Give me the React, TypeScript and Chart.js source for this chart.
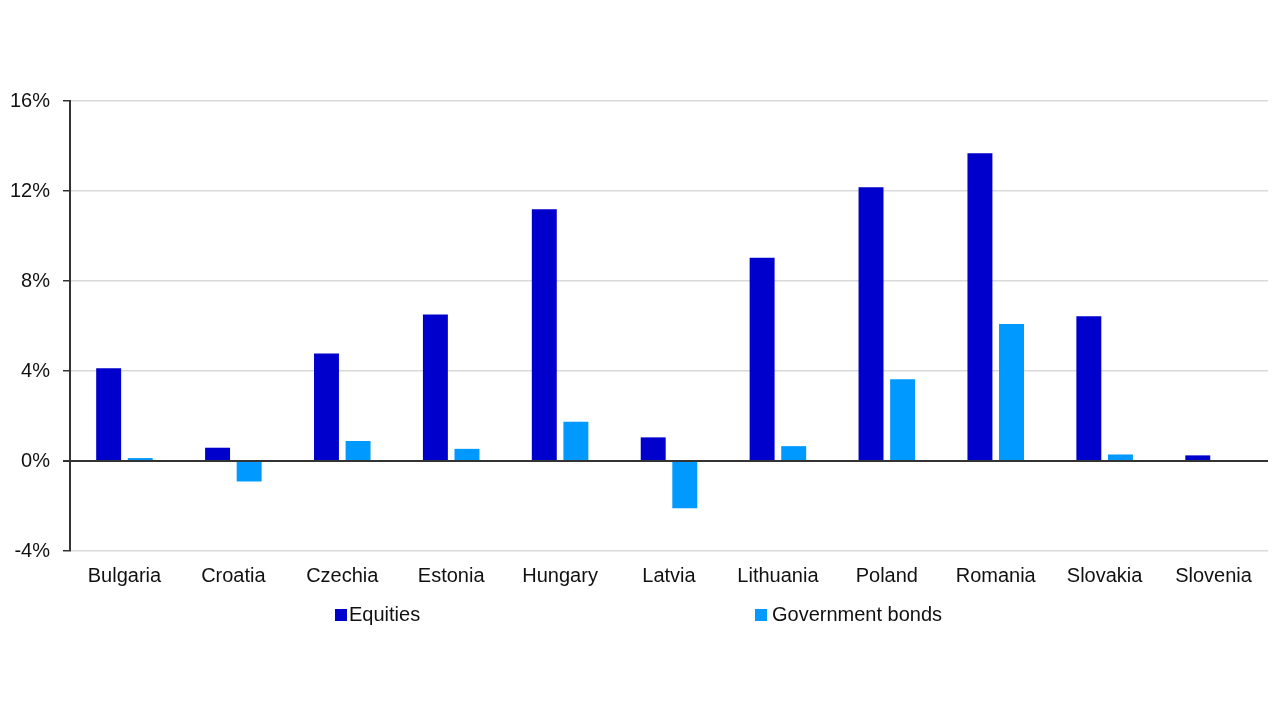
import { useEffect, useRef } from 'react';
import { Chart, registerables } from 'chart.js';

Chart.register(...registerables);

const countries = [
  'Bulgaria', 'Croatia', 'Czechia', 'Estonia', 'Hungary', 'Latvia',
  'Lithuania', 'Poland', 'Romania', 'Slovakia', 'Slovenia',
];
const equities = [4.12, 0.59, 4.78, 6.51, 11.19, 1.05, 9.03, 12.17, 13.68, 6.43, 0.25];
const govBonds = [0.13, -0.91, 0.89, 0.54, 1.75, -2.1, 0.66, 3.63, 6.09, 0.29, 0.0];
const yTicks = [-4, 0, 4, 8, 12, 16];

const palette = {
  equities: '#0000cc',
  bonds: '#0099ff',
  grid: '#d9d9d9',
  axis: '#333333',
  text: '#111111',
};

const fontFamily = '"Liberation Sans", Arial, sans-serif';

export default function App(): JSX.Element {
  const canvasRef = useRef<HTMLCanvasElement | null>(null);

  useEffect(() => {
    document.body.style.margin = '0';
    if (!canvasRef.current) return;
    const context = canvasRef.current.getContext('2d');
    if (!context) return;

    const chart = new Chart(context, {
      type: 'bar',
      data: {
        labels: countries,
        datasets: [
          {
            label: 'Equities',
            data: equities,
            backgroundColor: palette.equities,
            categoryPercentage: 0.58,
            barPercentage: 0.79,
          },
          {
            label: 'Government bonds',
            data: govBonds,
            backgroundColor: palette.bonds,
            categoryPercentage: 0.58,
            barPercentage: 0.79,
          },
        ],
      },
      options: {
        animation: false,
        responsive: false,
        layout: { padding: { top: 101, right: 12, bottom: 119, left: 0 } },
        plugins: {
          legend: { display: false },
          tooltip: { enabled: false },
        },
        scales: {
          x: {
            grid: { display: false, drawTicks: false },
            border: { display: false },
            ticks: {
              color: palette.text,
              font: { family: fontFamily, size: 20 },
              padding: 13,
              autoSkip: false,
              maxRotation: 0,
            },
            afterFit: (scale) => {
              scale.height = 50;
            },
          },
          y: {
            min: -4,
            max: 16,
            afterBuildTicks: (scale) => {
              scale.ticks = yTicks.map((value) => ({ value }));
            },
            grid: {
              color: (ctx) => (ctx.tick && ctx.tick.value === 0 ? palette.axis : palette.grid),
              lineWidth: (ctx) => (ctx.tick && ctx.tick.value === 0 ? 2 : 1.5),
              tickColor: palette.axis,
              tickLength: 7,
            },
            border: { color: palette.axis, width: 2 },
            ticks: {
              color: palette.text,
              font: { family: fontFamily, size: 20 },
              padding: 13,
              callback: (value) => `${value}%`,
            },
            afterFit: (scale) => {
              scale.width = 70;
            },
          },
        },
      },
    });

    return () => {
      chart.destroy();
    };
  }, []);

  const legendText = { fontFamily, fontSize: 20, color: palette.text };

  return (
    <div style={{ position: 'relative', width: 1280, height: 720, background: '#fff' }}>
      <canvas ref={canvasRef} width={1280} height={720} />
      <div style={{ position: 'absolute', left: 335, top: 603, display: 'flex', alignItems: 'center' }}>
        <span style={{ width: 12, height: 12, background: palette.equities, marginRight: 2 }} />
        <span style={legendText}>Equities</span>
      </div>
      <div style={{ position: 'absolute', left: 755, top: 603, display: 'flex', alignItems: 'center' }}>
        <span style={{ width: 12, height: 12, background: palette.bonds, marginRight: 5 }} />
        <span style={legendText}>Government bonds</span>
      </div>
    </div>
  );
}
